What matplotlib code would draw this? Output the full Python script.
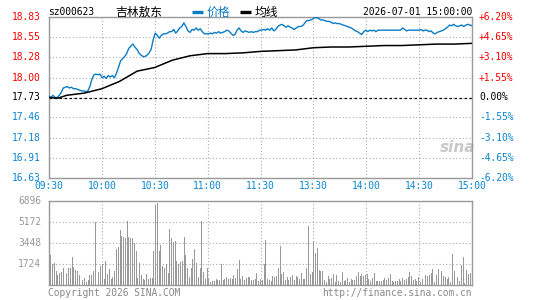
import numpy as np
import matplotlib
matplotlib.use('Agg')
import matplotlib.pyplot as plt
from matplotlib.lines import Line2D

plt.rcParams['font.family'] = ['DejaVu Sans Mono', 'Noto Sans CJK SC']

# ---- data ----
prev_close = 17.73
price_ticks = [16.63, 16.91, 17.18, 17.46, 17.73, 18.00, 18.28, 18.55, 18.83]
pct_labels = ['-6.20%', '-4.65%', '-3.10%', '-1.55%', '0.00%',
              '+1.55%', '+3.10%', '+4.65%', '+6.20%']
time_labels = ['09:30', '10:00', '10:30', '11:00', '11:30',
               '13:30', '14:00', '14:30', '15:00']
vol_ticks = [1724, 3448, 5172, 6896]

price = [17.75, 17.73, 17.76, 17.73, 17.73, 17.76, 17.80, 17.86, 17.87, 17.88,
         17.86, 17.87, 17.85, 17.85, 17.84, 17.83, 17.82, 17.82, 17.81, 17.82,
         17.88, 17.98, 18.04, 18.05, 18.04, 18.05, 18.00, 18.02, 17.99, 18.03,
         18.01, 18.03, 18.00, 18.06, 18.14, 18.23, 18.26, 18.29, 18.33, 18.40,
         18.43, 18.46, 18.42, 18.39, 18.34, 18.31, 18.29, 18.29, 18.31, 18.34,
         18.39, 18.52, 18.61, 18.58, 18.54, 18.58, 18.60, 18.60, 18.61, 18.63,
         18.63, 18.66, 18.61, 18.64, 18.68, 18.70, 18.75, 18.70, 18.64, 18.62,
         18.66, 18.65, 18.68, 18.65, 18.67, 18.63, 18.60, 18.60, 18.60, 18.61,
         18.60, 18.62, 18.61, 18.63, 18.61, 18.62, 18.63, 18.65, 18.64, 18.61,
         18.58, 18.59, 18.65, 18.68, 18.64, 18.62, 18.64, 18.63, 18.62, 18.63,
         18.62, 18.63, 18.63, 18.65, 18.65, 18.66, 18.65, 18.67, 18.65, 18.68,
         18.64, 18.66, 18.70, 18.72, 18.73, 18.71, 18.69, 18.71, 18.69, 18.68,
         18.66, 18.68, 18.70, 18.70, 18.71, 18.74, 18.78, 18.78, 18.79, 18.80,
         18.82, 18.82, 18.81, 18.79, 18.79, 18.78, 18.77, 18.77, 18.76, 18.74,
         18.75, 18.74, 18.74, 18.73, 18.72, 18.71, 18.70, 18.69, 18.68, 18.66,
         18.64, 18.63, 18.61, 18.59, 18.63, 18.65, 18.63, 18.65, 18.64, 18.65,
         18.63, 18.65, 18.65, 18.65, 18.65, 18.65, 18.65, 18.65, 18.65, 18.65,
         18.65, 18.65, 18.65, 18.68, 18.66, 18.64, 18.65, 18.65, 18.65, 18.65,
         18.65, 18.65, 18.66, 18.64, 18.65, 18.65, 18.63, 18.64, 18.61, 18.60,
         18.62, 18.63, 18.64, 18.65, 18.67, 18.69, 18.72, 18.71, 18.73, 18.71,
         18.70, 18.71, 18.72, 18.70, 18.72, 18.73, 18.72, 18.71]

avg_t = [0, 5, 10, 20, 30, 40, 50, 60, 70, 80, 90, 100, 110, 120,
         130, 140, 150, 160, 170, 180, 190, 200, 210, 220, 230, 240]
avg_price = [17.73, 17.72, 17.76, 17.79, 17.85, 17.95, 18.09, 18.14, 18.24, 18.30,
             18.33, 18.33, 18.34, 18.36, 18.37, 18.38, 18.41, 18.42, 18.42,
             18.43, 18.44, 18.44, 18.45, 18.46, 18.46, 18.47]

volume = [330, 2450, 1720, 1800, 1150, 820, 950, 1040, 1360, 3110,
          1010, 1360, 1420, 2290, 1450, 1230, 1150, 820, 1550, 410,
          550, 270, 380, 820, 820, 1150, 5150, 1530, 1090, 1530,
          1690, 490, 1940, 870, 1280, 460, 680, 1120, 2940, 3160,
          4520, 4030, 3980, 3820, 5230, 3950, 3820, 3870, 3410, 2780,
          600, 1800, 820, 490, 410, 930, 460, 550, 550, 2780,
          6600, 6760, 2780, 3270, 1550, 1420, 1720, 1010, 4580, 3820,
          3540, 3600, 1960, 1690, 1850, 1960, 3900, 2450, 1360, 680,
          1360, 2130, 2920, 1800, 650, 1360, 5290, 1090, 490, 1360,
          490, 270, 350, 350, 490, 410, 410, 1690, 410, 460,
          680, 490, 550, 460, 820, 600, 1310, 2040, 460, 760,
          410, 550, 680, 650, 410, 410, 490, 1010, 350, 460,
          410, 1690, 3730, 490, 380, 350, 710, 650, 710, 1420,
          3190, 870, 1040, 410, 650, 410, 680, 820, 410, 760,
          680, 490, 950, 490, 490, 1360, 4850, 930, 1040, 3600,
          2590, 3050, 1230, 1170, 1170, 380, 250, 760, 490, 550,
          870, 270, 790, 350, 270, 1090, 350, 410, 550, 270,
          460, 410, 410, 760, 1090, 740, 930, 760, 820, 870,
          460, 350, 550, 980, 330, 350, 350, 350, 410, 550,
          410, 550, 870, 330, 270, 330, 350, 460, 350, 550,
          410, 490, 680, 1040, 760, 410, 520, 330, 680, 270,
          490, 760, 820, 760, 820, 950, 1310, 220, 820, 1310,
          490, 1150, 760, 680, 460, 680, 270, 2530, 1150, 1150,
          680, 330, 1640, 2290, 190, 1230, 900, 950, 1230]

BLUE = '#0a7cc4'
LBLUE = '#0a86d0'
GRAY = '#999999'

t_price = np.linspace(0, 240, len(price))
t_vol = np.linspace(0, 240, len(volume))
xt = np.arange(0, 241, 30)

fig = plt.figure(figsize=(5.45, 3.0), dpi=100)
ax = fig.add_axes([49/545, 1 - 178/300, 423/545, 161/300])
axv = fig.add_axes([49/545, 1 - 285/300, 423/545, 84/300])

# price panel
ax.plot(t_price, price, color=BLUE, lw=1.0, zorder=3)
ax.plot(avg_t, avg_price, color='black', lw=1.1, zorder=3)
ax.axhline(prev_close, color='black', lw=0.9, ls=(0, (2, 2)), zorder=2)
ax.set_xlim(0, 240)
ax.set_ylim(16.63, 18.83)
ax.set_xticks(xt)
ax.set_yticks(price_ticks)
ax.grid(True, color='#aaaaaa', ls=(0, (1, 2)), lw=0.8)
ax.tick_params(length=0, labelleft=False, labelbottom=False)
for s in ax.spines.values():
    s.set_color(GRAY)
    s.set_linewidth(1.0)

for p, lab in zip(price_ticks, pct_labels):
    if p > prev_close:
        c = 'red'
    elif p < prev_close:
        c = LBLUE
    else:
        c = 'black'
    ax.text(-4.5, p, '%.2f' % p, color=c, fontsize=6.9, ha='right', va='center')
    ax.text(244, p, lab, color=c, fontsize=6.9, ha='left', va='center')

for x, lab in zip(xt, time_labels):
    ax.text(x, 16.52, lab, color=LBLUE, fontsize=6.9, ha='center', va='center')

ax.text(232, 17.05, 'sina', color='#c8c8c8',
        fontsize=11, fontstyle='italic', fontweight='bold',
        family='DejaVu Sans', ha='center', va='center', zorder=1)

# header
fig.text(48/545, 1 - 12/300, 'sz000623', fontsize=6.9, va='center')
fig.text(115/545, 1 - 12/300, '吉林敖东', fontsize=8.5, va='center',
         family=['Noto Sans CJK SC', 'DejaVu Sans'])
fig.lines.append(Line2D([192/545, 203/545], [1 - 12/300, 1 - 12/300],
                        color=BLUE, lw=2.4, solid_capstyle='butt',
                        transform=fig.transFigure))
fig.text(207/545, 1 - 12/300, '价格', color=BLUE, fontsize=8.5, va='center',
         family=['Noto Sans CJK SC', 'DejaVu Sans'])
fig.lines.append(Line2D([240/545, 251/545], [1 - 12/300, 1 - 12/300],
                        color='black', lw=2.4, solid_capstyle='butt',
                        transform=fig.transFigure))
fig.text(255/545, 1 - 12/300, '均线', color='black', fontsize=8.5, va='center',
         family=['Noto Sans CJK SC', 'DejaVu Sans'])
fig.text(472/545, 1 - 12/300, '2026-07-01 15:00:00', fontsize=6.9,
         ha='right', va='center')

# volume panel
axv.bar(t_vol, volume, width=0.55, color=GRAY, zorder=3)
axv.set_xlim(0, 240)
axv.set_ylim(0, 6896)
axv.set_xticks(xt)
axv.set_yticks(vol_ticks)
axv.grid(True, color='#aaaaaa', ls=(0, (1, 2)), lw=0.8)
axv.tick_params(length=0, labelleft=False, labelbottom=False)
for s in axv.spines.values():
    s.set_color(GRAY)
    s.set_linewidth(1.0)
for v in vol_ticks:
    axv.text(-4.5, v, str(v), color=GRAY, fontsize=6.9, ha='right', va='center')

fig.text(48/545, 1 - 293/300, 'Copyright 2026 SINA.COM', color='#888888',
         fontsize=6.9, va='center')
fig.text(472/545, 1 - 293/300, 'http://finance.sina.com.cn', color='#888888',
         fontsize=6.9, ha='right', va='center')

fig.savefig('out.png', dpi=100, facecolor='white')
